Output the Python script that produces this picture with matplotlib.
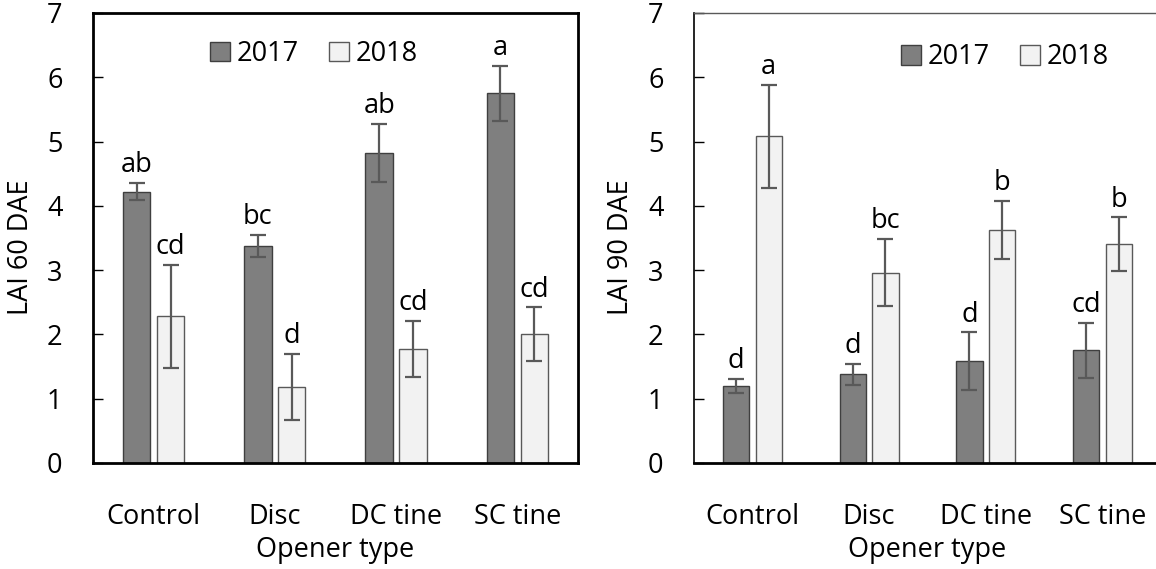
import numpy as np
import matplotlib.pyplot as plt
from matplotlib.patches import Patch

plt.rcParams['font.family'] = ['Open Sans', 'DejaVu Sans']

openers = ['Control', 'Disc', 'DC tine', 'SC tine']
years = ['2017', '2018']

# LAI 60 DAE
lai60_2017 = [4.22, 3.38, 4.82, 5.75]
lai60_2018 = [2.28, 1.18, 1.77, 2.00]
err60_2017 = [0.13, 0.17, 0.45, 0.43]
err60_2018 = [0.80, 0.51, 0.44, 0.42]
let60_2017 = ['ab', 'bc', 'ab', 'a']
let60_2018 = ['cd', 'd', 'cd', 'cd']

# LAI 90 DAE
lai90_2017 = [1.20, 1.38, 1.58, 1.75]
lai90_2018 = [5.08, 2.96, 3.62, 3.40]
err90_2017 = [0.11, 0.16, 0.45, 0.43]
err90_2018 = [0.80, 0.52, 0.45, 0.42]
let90_2017 = ['d', 'd', 'd', 'cd']
let90_2018 = ['a', 'bc', 'b', 'b']

dark = '#7f7f7f'
light = '#f2f2f2'
fs = 19.5

fig = plt.figure(figsize=(11.56, 5.69), dpi=100)
ax1 = fig.add_axes([0.0804, 0.1863, 0.4196, 0.7909])
ax2 = fig.add_axes([0.6003, 0.1863, 0.4040, 0.7909])


def draw(ax, v17, v18, e17, e18, l17, l18, ylabel, leg_xy, ylab_x):
    x = np.arange(len(openers))
    w = 0.225
    off = 0.14
    ax.bar(x - off, v17, w, color=dark, edgecolor='#3f3f3f', linewidth=1, zorder=2)
    ax.bar(x + off, v18, w, color=light, edgecolor='#595959', linewidth=1, zorder=2)
    ax.errorbar(x - off, v17, yerr=e17, fmt='none', ecolor='#595959', elinewidth=1.6,
                capsize=6, capthick=1.6, zorder=3)
    ax.errorbar(x + off, v18, yerr=e18, fmt='none', ecolor='#595959', elinewidth=1.6,
                capsize=6, capthick=1.6, zorder=3)
    for i in range(len(openers)):
        ax.text(x[i] - off, v17[i] + e17[i] + 0.06, l17[i], ha='center', va='bottom', fontsize=fs)
        ax.text(x[i] + off, v18[i] + e18[i] + 0.06, l18[i], ha='center', va='bottom', fontsize=fs)
    ax.set_xlim(-0.5, len(openers) - 0.5)
    ax.set_ylim(0, 7)
    ax.set_yticks(range(8))
    ax.set_xticks(x)
    ax.set_xticklabels(openers)
    ax.tick_params(axis='y', direction='in', length=7, width=1, pad=22, labelsize=fs)
    ax.tick_params(axis='x', length=0, pad=29, labelsize=fs)
    ax.set_ylabel(ylabel, fontsize=fs)
    ax.yaxis.set_label_coords(ylab_x, 0.48)
    ax.set_xlabel('Opener type', fontsize=fs)
    ax.xaxis.set_label_coords(0.5, -0.162)
    handles = [Patch(facecolor=dark, edgecolor='#3f3f3f'), Patch(facecolor=light, edgecolor='#595959')]
    ax.legend(handles, years, loc='center', bbox_to_anchor=leg_xy, ncol=2, frameon=False,
              fontsize=fs, handlelength=0.75, handleheight=0.75, handletextpad=0.25,
              columnspacing=1.1)


draw(ax1, lai60_2017, lai60_2018, err60_2017, err60_2018, let60_2017, let60_2018,
     'LAI 60 DAE', (0.456, 0.909), -0.119)
draw(ax2, lai90_2017, lai90_2018, err90_2017, err90_2018, let90_2017, let90_2018,
     'LAI 90 DAE', (0.666, 0.902), -0.126)

for s in ax1.spines.values():
    s.set_linewidth(2)
    s.set_color('black')

ax2.spines['left'].set_linewidth(1.2)
ax2.spines['bottom'].set_linewidth(2)
ax2.spines['top'].set_linewidth(1)
ax2.spines['top'].set_color('#595959')
ax2.spines['right'].set_visible(False)

fig.savefig('out.png', dpi=100)
